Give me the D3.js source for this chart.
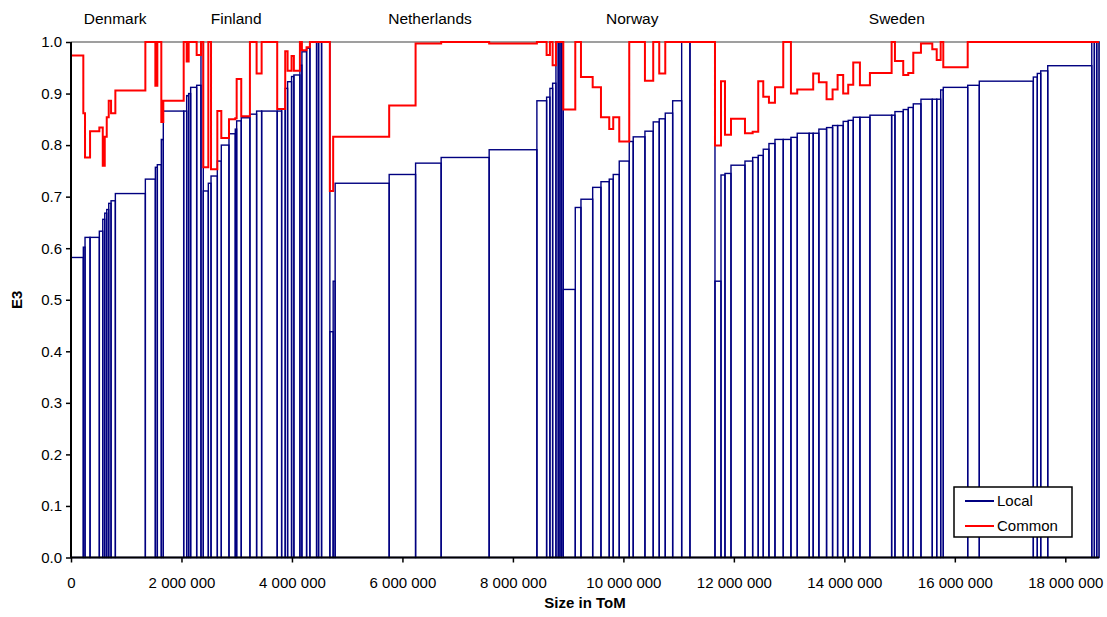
<!DOCTYPE html>
<html>
<head>
<meta charset="utf-8">
<script src="https://cdn.jsdelivr.net/npm/d3@7"></script>
<style>
  body { margin: 0; background: #fff; }
  svg { display: block; }
  text { font-family: "Liberation Sans", Arial, sans-serif; fill: #000; }
</style>
</head>
<body>
<svg id="chart" width="1107" height="617"></svg>
<script>
// Countries and where their names sit along the size axis (ToM)
const countries = ["Denmark", "Finland", "Netherlands", "Norway", "Sweden"];
const countryLabelAt = [800000, 2990000, 6500000, 10160000, 14950000];

// Per-unit size (ToM), local E3 and common-frontier E3, sorted by local E3
const denmarkSize = [223000, 31000, 91000, 168000, 62000, 36000, 36000, 36000, 42000, 78000, 543000, 181000, 36000, 72000, 36000, 369000, 54000, 36000, 36000, 109000, 78000, 42000];
const denmarkLocal = [0.582, 0.602, 0.621, 0.621, 0.633, 0.656, 0.668, 0.675, 0.687, 0.692, 0.706, 0.734, 0.757, 0.762, 0.811, 0.866, 0.866, 0.896, 0.900, 0.912, 0.916, 1.0];
const denmarkCommon = [0.974, 0.862, 0.776, 0.827, 0.834, 0.760, 0.816, 0.854, 0.886, 0.862, 0.906, 1.0, 0.915, 1.0, 0.845, 0.886, 1.0, 0.962, 1.0, 1.0, 0.975, 1.0];

const finlandSize = [91000, 49000, 114000, 72000, 139000, 114000, 25000, 83000, 157000, 121000, 91000, 282000, 80000, 65000, 43000, 72000, 42000, 109000, 36000, 85000, 60000, 121000, 36000, 54000, 150000];
const finlandLocal = [0.711, 0.726, 0.740, 0.769, 0.800, 0.822, 0.831, 0.847, 0.853, 0.860, 0.866, 0.866, 0.866, 0.870, 0.910, 0.923, 0.933, 0.936, 0.955, 0.981, 0.988, 1.0, 1.0, 1.0, 1.0];
const finlandCommon = [0.757, 1.0, 0.753, 0.866, 0.814, 0.850, 0.852, 0.928, 0.856, 1.0, 0.939, 1.0, 0.870, 0.870, 0.982, 0.944, 0.973, 0.944, 1.0, 0.984, 0.990, 1.0, 1.0, 1.0, 1.0];

const netherlandsSize = [60000, 36000, 978000, 478000, 463000, 869000, 864000, 176000, 60000, 49000, 60000, 42000, 31000, 31000, 29000];
const netherlandsLocal = [0.438, 0.536, 0.726, 0.743, 0.765, 0.776, 0.791, 0.886, 0.893, 0.910, 0.920, 1.0, 1.0, 1.0, 1.0];
const netherlandsCommon = [0.711, 0.816, 0.816, 0.877, 0.997, 1.0, 0.997, 1.0, 0.975, 1.0, 0.955, 1.0, 1.0, 1.0, 1.0];

const norwaySize = [217000, 103000, 212000, 150000, 150000, 72000, 109000, 181000, 72000, 212000, 150000, 109000, 109000, 134000, 163000, 150000, 453000];
const norwayLocal = [0.520, 0.679, 0.695, 0.718, 0.729, 0.734, 0.743, 0.769, 0.807, 0.816, 0.827, 0.845, 0.851, 0.862, 0.886, 1.0, 1.0];
const norwayCommon = [0.869, 1.0, 0.932, 0.912, 0.854, 0.831, 0.854, 0.807, 1.0, 1.0, 0.925, 1.0, 0.939, 1.0, 1.0, 1.0, 1.0];

const swedenSize = [109000, 72000, 109000, 253000, 139000, 101000, 91000, 103000, 109000, 150000, 139000, 114000, 217000, 72000, 103000, 139000, 109000, 91000, 101000, 91000, 91000, 121000, 181000, 393000, 60000, 150000, 91000, 91000, 139000, 205000, 80000, 72000, 47000, 442000, 210000, 978000, 72000, 62000, 127000, 797000, 47000, 43000, 42000];
const swedenLocal = [0.536, 0.742, 0.745, 0.761, 0.769, 0.776, 0.780, 0.792, 0.803, 0.811, 0.811, 0.815, 0.823, 0.823, 0.823, 0.831, 0.834, 0.838, 0.838, 0.846, 0.848, 0.854, 0.854, 0.858, 0.858, 0.865, 0.869, 0.873, 0.880, 0.889, 0.889, 0.889, 0.907, 0.912, 0.916, 0.924, 0.932, 0.939, 0.944, 0.954, 1.0, 1.0, 1.0];
const swedenCommon = [0.799, 0.924, 0.820, 0.851, 0.823, 0.826, 0.924, 0.894, 0.882, 0.912, 1.0, 0.900, 0.908, 0.908, 0.939, 0.922, 0.889, 0.908, 0.936, 0.900, 0.917, 0.960, 0.916, 0.940, 1.0, 0.963, 0.936, 0.940, 0.979, 0.997, 0.986, 0.965, 1.0, 0.951, 1.0, 1.0, 1.0, 1.0, 1.0, 1.0, 1.0, 1.0, 1.0];

// Axis ticks
const xTickValues = [0, 2000000, 4000000, 6000000, 8000000, 10000000, 12000000, 14000000, 16000000, 18000000];
const yTickValues = [0, 0.1, 0.2, 0.3, 0.4, 0.5, 0.6, 0.7, 0.8, 0.9, 1.0];
const xMax = 18610000;

const seriesNames = ["Local", "Common"];
const seriesColors = ["#000080", "#ff0000"];

// Assemble units in drawing order with cumulative positions
const groups = [
  [denmarkSize, denmarkLocal, denmarkCommon],
  [finlandSize, finlandLocal, finlandCommon],
  [netherlandsSize, netherlandsLocal, netherlandsCommon],
  [norwaySize, norwayLocal, norwayCommon],
  [swedenSize, swedenLocal, swedenCommon]
];
const units = [];
let cum = 0;
groups.forEach(([size, local, common], gi) => {
  size.forEach((s, i) => {
    units.push({ country: countries[gi], x0: cum, x1: cum + s, local: local[i], common: common[i] });
    cum += s;
  });
});

const svg = d3.select("#chart");
const margin = { left: 71, right: 8, top: 42, bottom: 59.5 };
const W = 1107, H = 617;
const FONT = '"Liberation Sans", Arial, sans-serif';

const x = d3.scaleLinear().domain([0, xMax]).range([margin.left, W - margin.right]);
const y = d3.scaleLinear().domain([0, 1]).range([H - margin.bottom, margin.top]);

// Plot-area frame (top and right edges)
svg.append("path")
  .attr("d", `M${x(0)},${y(1)}H${x(xMax)}V${y(0)}`)
  .attr("fill", "none").attr("stroke", "#808080").attr("stroke-width", 1.5);

// Local efficiency: one outlined column per unit, width = size
svg.append("g").selectAll("rect").data(units).join("rect")
  .attr("x", d => x(d.x0))
  .attr("y", d => y(d.local))
  .attr("width", d => x(d.x1) - x(d.x0))
  .attr("height", d => y(0) - y(d.local))
  .attr("fill", "none")
  .attr("stroke", seriesColors[0])
  .attr("stroke-width", 1.4);

// Common-frontier efficiency as a step line over the same units
const stepPts = units.map(d => [d.x0, d.common]);
stepPts.push([units[units.length - 1].x1, units[units.length - 1].common]);
svg.append("path")
  .datum(stepPts)
  .attr("d", d3.line().x(d => x(d[0])).y(d => y(d[1])).curve(d3.curveStepAfter))
  .attr("fill", "none")
  .attr("stroke", seriesColors[1])
  .attr("stroke-width", 2);

// Axes
const spaceLocale = d3.formatLocale({ decimal: ".", thousands: " ", grouping: [3], currency: ["", ""] });
const xAxis = svg.append("g")
  .attr("transform", `translate(0,${y(0)})`)
  .call(d3.axisBottom(x).tickValues(xTickValues).tickFormat(spaceLocale.format(",")).tickSize(5).tickSizeOuter(0).tickPadding(15));
const yAxis = svg.append("g")
  .attr("transform", `translate(${x(0)},0)`)
  .call(d3.axisLeft(y).tickValues(yTickValues).tickFormat(d3.format(".1f")).tickSize(5).tickSizeOuter(0).tickPadding(4));
[xAxis, yAxis].forEach(g => {
  g.select(".domain").attr("stroke", "#000").attr("stroke-width", 2);
  g.selectAll(".tick line").attr("stroke", "#000").attr("stroke-width", 1.5);
  g.selectAll(".tick text").attr("font-size", 15).attr("font-family", FONT).attr("fill", "#000");
});
xAxis.select(".domain").attr("d", `M${x(0)},0H${x(xMax)}`);
yAxis.select(".domain").attr("d", `M0,${y(0)}V${y(1)}`);

// Axis titles
svg.append("text")
  .attr("x", (x(0) + x(xMax)) / 2).attr("y", 608)
  .attr("text-anchor", "middle").attr("font-weight", "bold").attr("font-size", 15)
  .text("Size in ToM");
svg.append("text")
  .attr("transform", `translate(22,${(y(0) + y(1)) / 2}) rotate(-90)`)
  .attr("text-anchor", "middle").attr("font-weight", "bold").attr("font-size", 15)
  .text("E3");

// Country names
svg.append("g").selectAll("text").data(countries).join("text")
  .attr("x", (d, i) => x(countryLabelAt[i]))
  .attr("y", 24)
  .attr("text-anchor", "middle")
  .attr("font-size", 15.5)
  .text(d => d);

// Legend
const legend = svg.append("g").attr("transform", "translate(954,487)");
legend.append("rect").attr("width", 118).attr("height", 50)
  .attr("fill", "#fff").attr("stroke", "#000").attr("stroke-width", 1.5);
seriesNames.forEach((name, i) => {
  const ly = 14 + i * 25;
  legend.append("line").attr("x1", 11).attr("x2", 40).attr("y1", ly).attr("y2", ly)
    .attr("stroke", seriesColors[i]).attr("stroke-width", 2);
  legend.append("text").attr("x", 43).attr("y", ly + 5).attr("font-size", 15).text(name);
});
</script>
</body>
</html>
